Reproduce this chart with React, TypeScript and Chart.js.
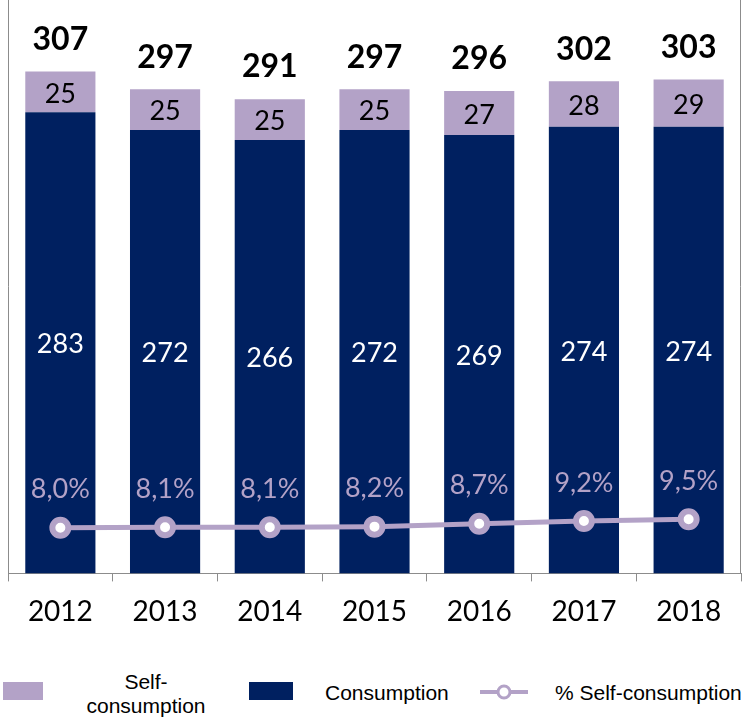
import React, { useEffect, useRef } from "react";
import { Chart, registerables } from "chart.js";

Chart.register(...registerables);

const years = ["2012", "2013", "2014", "2015", "2016", "2017", "2018"];
const consumption = [283, 272, 266, 272, 269, 274, 274];
const selfConsumption = [25, 25, 25, 25, 27, 28, 29];
const totals = [307, 297, 291, 297, 296, 302, 303];
const selfPct = [8.0, 8.1, 8.1, 8.2, 8.7, 9.2, 9.5];

const NAVY = "#002060";
const LAVENDER = "#B3A2C7";
const AXIS = "#8C8C8C";
const LABEL_FONT = "Lato";

const labelPlugin = {
  id: "valueLabels",
  afterDatasetsDraw(chart: any) {
    const ctx = chart.ctx as CanvasRenderingContext2D;
    const area = chart.chartArea;
    const mc = chart.getDatasetMeta(0);
    const ms = chart.getDatasetMeta(1);
    const ml = chart.getDatasetMeta(2);
    ctx.save();
    // vertical axis lines
    ctx.strokeStyle = AXIS;
    ctx.lineWidth = 1;
    ctx.beginPath();
    ctx.moveTo(Math.round(area.left) + 0.5, 0);
    ctx.lineTo(Math.round(area.left) + 0.5, area.bottom);
    ctx.moveTo(Math.round(area.right) - 0.5, 0);
    ctx.lineTo(Math.round(area.right) - 0.5, area.bottom);
    ctx.stroke();

    ctx.textAlign = "center";
    ctx.textBaseline = "middle";
    for (let i = 0; i < years.length; i++) {
      const c: any = mc.data[i];
      const s: any = ms.data[i];
      const p: any = ml.data[i];
      ctx.font = `27px ${LABEL_FONT}`;
      ctx.fillStyle = "#FFFFFF";
      ctx.fillText(String(consumption[i]), c.x, (c.y + c.base) / 2 + 2);
      ctx.fillStyle = "#000000";
      ctx.fillText(String(selfConsumption[i]), s.x, (s.y + s.base) / 2 + 2);
      ctx.font = `bold 32px ${LABEL_FONT}`;
      ctx.fillText(String(totals[i]), s.x, s.y - 32);
      ctx.font = `27px ${LABEL_FONT}`;
      ctx.fillStyle = LAVENDER;
      ctx.fillText(selfPct[i].toFixed(1).replace(".", ",") + "%", p.x, p.y - 38);
    }
    ctx.restore();
  },
};

export default function App() {
  const canvasRef = useRef<HTMLCanvasElement | null>(null);

  useEffect(() => {
    let chart: Chart | null = null;
    let cancelled = false;
    const build = () => {
      if (cancelled || !canvasRef.current) return;
      chart = new Chart(canvasRef.current, {
        type: "bar",
        data: {
          labels: years,
          datasets: [
            {
              type: "bar",
              label: "Consumption",
              data: consumption,
              backgroundColor: NAVY,
              borderWidth: 0,
              barPercentage: 0.67,
              categoryPercentage: 1.0,
              yAxisID: "y",
              order: 1,
            },
            {
              type: "bar",
              label: "Self-consumption",
              data: selfConsumption,
              backgroundColor: LAVENDER,
              borderWidth: 0,
              barPercentage: 0.67,
              categoryPercentage: 1.0,
              yAxisID: "y",
              order: 1,
            },
            {
              type: "line",
              label: "% Self-consumption",
              data: selfPct,
              borderColor: LAVENDER,
              borderWidth: 5,
              pointRadius: 8,
              pointBorderWidth: 6,
              pointBackgroundColor: "#FFFFFF",
              pointBorderColor: LAVENDER,
              yAxisID: "y2",
              order: 0,
            },
          ],
        } as any,
        options: {
          responsive: false,
          animation: false,
          layout: { autoPadding: false, padding: { left: 8, right: 2, top: 3, bottom: 0 } },
          plugins: {
            legend: { display: false },
            tooltip: { enabled: false },
            title: { display: false },
          },
          scales: {
            x: {
              stacked: true,
              grid: {
                display: true,
                drawOnChartArea: false,
                drawTicks: true,
                tickLength: 8,
                color: AXIS,
                offset: true,
              },
              border: { display: true, color: AXIS, width: 1 },
              ticks: {
                font: { family: LABEL_FONT, size: 28 },
                color: "#000000",
                padding: 14,
              },
            },
            y: { stacked: true, display: false, min: 0, max: 350 },
            y2: { display: false, min: 0, max: 100, position: "right" },
          },
        } as any,
        plugins: [labelPlugin],
      });
    };
    const fontsApi: any = (document as any).fonts;
    if (fontsApi && fontsApi.load) {
      Promise.all([
        fontsApi.load(`27px ${LABEL_FONT}`),
        fontsApi.load(`bold 32px ${LABEL_FONT}`),
      ])
        .catch(() => null)
        .then(build);
    } else {
      build();
    }
    return () => {
      cancelled = true;
      if (chart) chart.destroy();
    };
  }, []);

  const legendText: React.CSSProperties = {
    position: "absolute",
    fontFamily: "'Liberation Sans', Arial, sans-serif",
    fontSize: 21,
    lineHeight: "24px",
    color: "#000",
    whiteSpace: "nowrap",
  };

  return (
    <div
      style={{
        position: "absolute",
        left: 0,
        top: 0,
        width: 743,
        height: 721,
        overflow: "hidden",
        background: "#fff",
      }}
    >
      <canvas ref={canvasRef} width={743} height={643} style={{ display: "block" }} />
      <div style={{ position: "absolute", left: 3, top: 682, width: 40, height: 18, background: LAVENDER }} />
      <div style={{ ...legendText, left: 66, top: 670, width: 160, textAlign: "center", whiteSpace: "normal" }}>
        Self-
        <br />
        consumption
      </div>
      <div style={{ position: "absolute", left: 249, top: 682, width: 44, height: 18, background: NAVY }} />
      <div style={{ ...legendText, left: 325, top: 681 }}>Consumption</div>
      <svg
        style={{ position: "absolute", left: 476, top: 680 }}
        width={56}
        height={24}
      >
        <line x1={4} y1={12} x2={52} y2={12} stroke={LAVENDER} strokeWidth={4} />
        <circle cx={28} cy={12} r={6} fill="#fff" stroke={LAVENDER} strokeWidth={3} />
      </svg>
      <div style={{ ...legendText, left: 555, top: 681 }}>% Self-consumption</div>
    </div>
  );
}
